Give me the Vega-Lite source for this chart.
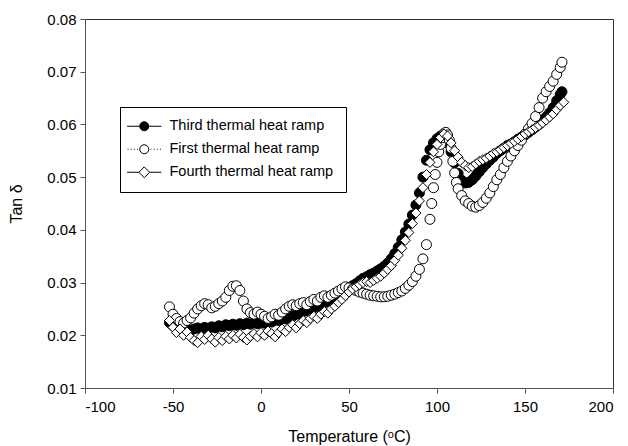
{
  "$schema": "https://vega.github.io/schema/vega-lite/v6.json",
  "autosize": {"type": "none"},
  "width": 528,
  "height": 369,
  "padding": {"left": 85, "top": 19, "right": 15, "bottom": 58},
  "config": {
    "font": "Liberation Sans",
    "view": {"stroke": "#333333", "strokeWidth": 1},
    "axis": {
      "grid": false,
      "domainColor": "#555555",
      "tickColor": "#555555",
      "labelColor": "black",
      "titleColor": "black",
      "labelFontSize": 15,
      "titleFontSize": 16,
      "titleFontWeight": "normal",
      "tickSize": 5,
      "labelPadding": 4
    },
    "legend": {
      "orient": "none", "legendX": 35, "legendY": 88,
      "strokeColor": "black", "fillColor": "white", "padding": 12,
      "symbolSize": 81, "symbolOffset": 5, "labelOffset": 18, "labelFontSize": 14.5, "labelColor": "black",
      "rowPadding": 8, "symbolStrokeWidth": 1, "labelLimit": 300
    }
  },
  "datasets": {
    "main": [
      {"s":"Third","t":-52,"v":0.0224},{"s":"Third","t":-50,"v":0.0218},{"s":"Third","t":-48,"v":0.0212},{"s":"Third","t":-46,"v":0.0215},{"s":"Third","t":-44,"v":0.0210},{"s":"Third","t":-42,"v":0.0213},{"s":"Third","t":-40,"v":0.0209},{"s":"Third","t":-38,"v":0.0212},{"s":"Third","t":-36,"v":0.0214},{"s":"Third","t":-34,"v":0.0211},{"s":"Third","t":-32,"v":0.0215},{"s":"Third","t":-30,"v":0.0213},{"s":"Third","t":-28,"v":0.0216},{"s":"Third","t":-26,"v":0.0214},{"s":"Third","t":-24,"v":0.0218},{"s":"Third","t":-22,"v":0.0216},{"s":"Third","t":-20,"v":0.0220},{"s":"Third","t":-18,"v":0.0218},{"s":"Third","t":-16,"v":0.0221},{"s":"Third","t":-14,"v":0.0219},{"s":"Third","t":-12,"v":0.0222},{"s":"Third","t":-10,"v":0.0220},{"s":"Third","t":-8,"v":0.0223},{"s":"Third","t":-6,"v":0.0221},{"s":"Third","t":-4,"v":0.0224},{"s":"Third","t":-2,"v":0.0222},{"s":"Third","t":0,"v":0.0225},{"s":"Third","t":2,"v":0.0223},{"s":"Third","t":4,"v":0.0227},{"s":"Third","t":6,"v":0.0225},{"s":"Third","t":8,"v":0.0229},{"s":"Third","t":10,"v":0.0228},{"s":"Third","t":12,"v":0.0232},{"s":"Third","t":14,"v":0.0231},{"s":"Third","t":16,"v":0.0235},{"s":"Third","t":18,"v":0.0236},{"s":"Third","t":20,"v":0.0240},{"s":"Third","t":22,"v":0.0241},{"s":"Third","t":24,"v":0.0245},{"s":"Third","t":26,"v":0.0247},{"s":"Third","t":28,"v":0.0250},{"s":"Third","t":30,"v":0.0252},{"s":"Third","t":32,"v":0.0256},{"s":"Third","t":34,"v":0.0258},{"s":"Third","t":36,"v":0.0262},{"s":"Third","t":38,"v":0.0265},{"s":"Third","t":40,"v":0.0268},{"s":"Third","t":42,"v":0.0272},{"s":"Third","t":44,"v":0.0276},{"s":"Third","t":46,"v":0.0280},{"s":"Third","t":48,"v":0.0285},{"s":"Third","t":50,"v":0.0290},{"s":"Third","t":52,"v":0.0294},{"s":"Third","t":54,"v":0.0298},{"s":"Third","t":56,"v":0.0303},{"s":"Third","t":58,"v":0.0308},{"s":"Third","t":60,"v":0.0311},{"s":"Third","t":62,"v":0.0315},{"s":"Third","t":64,"v":0.0318},{"s":"Third","t":66,"v":0.0322},{"s":"Third","t":68,"v":0.0326},{"s":"Third","t":70,"v":0.0331},{"s":"Third","t":72,"v":0.0337},{"s":"Third","t":74,"v":0.0345},{"s":"Third","t":76,"v":0.0355},{"s":"Third","t":78,"v":0.0367},{"s":"Third","t":80,"v":0.0381},{"s":"Third","t":82,"v":0.0396},{"s":"Third","t":84,"v":0.0411},{"s":"Third","t":86,"v":0.0428},{"s":"Third","t":88,"v":0.0447},{"s":"Third","t":90,"v":0.0470},{"s":"Third","t":92,"v":0.0500},{"s":"Third","t":94,"v":0.0532},{"s":"Third","t":96,"v":0.0552},{"s":"Third","t":98,"v":0.0565},{"s":"Third","t":100,"v":0.0573},{"s":"Third","t":102,"v":0.0578},{"s":"Third","t":104,"v":0.0575},{"s":"Third","t":106,"v":0.0565},{"s":"Third","t":108,"v":0.0548},{"s":"Third","t":110,"v":0.0527},{"s":"Third","t":112,"v":0.0507},{"s":"Third","t":114,"v":0.0494},{"s":"Third","t":116,"v":0.0489},{"s":"Third","t":118,"v":0.0490},{"s":"Third","t":120,"v":0.0495},{"s":"Third","t":122,"v":0.0502},{"s":"Third","t":124,"v":0.0510},{"s":"Third","t":126,"v":0.0518},{"s":"Third","t":128,"v":0.0525},{"s":"Third","t":130,"v":0.0532},{"s":"Third","t":132,"v":0.0538},{"s":"Third","t":134,"v":0.0545},{"s":"Third","t":136,"v":0.0550},{"s":"Third","t":138,"v":0.0555},{"s":"Third","t":140,"v":0.0560},{"s":"Third","t":142,"v":0.0563},{"s":"Third","t":144,"v":0.0567},{"s":"Third","t":146,"v":0.0572},{"s":"Third","t":148,"v":0.0576},{"s":"Third","t":150,"v":0.0580},{"s":"Third","t":152,"v":0.0585},{"s":"Third","t":154,"v":0.0590},{"s":"Third","t":156,"v":0.0595},{"s":"Third","t":158,"v":0.0600},{"s":"Third","t":160,"v":0.0607},{"s":"Third","t":162,"v":0.0614},{"s":"Third","t":164,"v":0.0622},{"s":"Third","t":166,"v":0.0632},{"s":"Third","t":168,"v":0.0645},{"s":"Third","t":170,"v":0.0657},{"s":"Third","t":171,"v":0.0662},
      {"s":"First","t":-52,"v":0.0254},{"s":"First","t":-50,"v":0.0240},{"s":"First","t":-48,"v":0.0232},{"s":"First","t":-46,"v":0.0226},{"s":"First","t":-44,"v":0.0223},{"s":"First","t":-42,"v":0.0228},{"s":"First","t":-40,"v":0.0233},{"s":"First","t":-38,"v":0.0242},{"s":"First","t":-36,"v":0.0250},{"s":"First","t":-34,"v":0.0256},{"s":"First","t":-32,"v":0.0260},{"s":"First","t":-30,"v":0.0258},{"s":"First","t":-28,"v":0.0252},{"s":"First","t":-26,"v":0.0255},{"s":"First","t":-24,"v":0.0260},{"s":"First","t":-22,"v":0.0265},{"s":"First","t":-20,"v":0.0272},{"s":"First","t":-18,"v":0.0285},{"s":"First","t":-16,"v":0.0293},{"s":"First","t":-14,"v":0.0294},{"s":"First","t":-12,"v":0.0285},{"s":"First","t":-10,"v":0.0265},{"s":"First","t":-8,"v":0.0250},{"s":"First","t":-6,"v":0.0243},{"s":"First","t":-4,"v":0.0240},{"s":"First","t":-2,"v":0.0244},{"s":"First","t":0,"v":0.0240},{"s":"First","t":2,"v":0.0236},{"s":"First","t":4,"v":0.0232},{"s":"First","t":6,"v":0.0235},{"s":"First","t":8,"v":0.0240},{"s":"First","t":10,"v":0.0238},{"s":"First","t":12,"v":0.0244},{"s":"First","t":14,"v":0.0250},{"s":"First","t":16,"v":0.0255},{"s":"First","t":18,"v":0.0258},{"s":"First","t":20,"v":0.0256},{"s":"First","t":22,"v":0.0260},{"s":"First","t":24,"v":0.0262},{"s":"First","t":26,"v":0.0258},{"s":"First","t":28,"v":0.0264},{"s":"First","t":30,"v":0.0268},{"s":"First","t":32,"v":0.0265},{"s":"First","t":34,"v":0.0272},{"s":"First","t":36,"v":0.0275},{"s":"First","t":38,"v":0.0272},{"s":"First","t":40,"v":0.0276},{"s":"First","t":42,"v":0.0280},{"s":"First","t":44,"v":0.0284},{"s":"First","t":46,"v":0.0288},{"s":"First","t":48,"v":0.0292},{"s":"First","t":50,"v":0.0290},{"s":"First","t":52,"v":0.0288},{"s":"First","t":54,"v":0.0285},{"s":"First","t":56,"v":0.0282},{"s":"First","t":58,"v":0.0280},{"s":"First","t":60,"v":0.0278},{"s":"First","t":62,"v":0.0276},{"s":"First","t":64,"v":0.0275},{"s":"First","t":66,"v":0.0274},{"s":"First","t":68,"v":0.0273},{"s":"First","t":70,"v":0.0273},{"s":"First","t":72,"v":0.0274},{"s":"First","t":74,"v":0.0276},{"s":"First","t":76,"v":0.0278},{"s":"First","t":78,"v":0.0281},{"s":"First","t":80,"v":0.0284},{"s":"First","t":82,"v":0.0289},{"s":"First","t":84,"v":0.0295},{"s":"First","t":86,"v":0.0302},{"s":"First","t":88,"v":0.0312},{"s":"First","t":90,"v":0.0325},{"s":"First","t":92,"v":0.0345},{"s":"First","t":94,"v":0.0372},{"s":"First","t":96,"v":0.0420},{"s":"First","t":97,"v":0.0450},{"s":"First","t":98,"v":0.0480},{"s":"First","t":99,"v":0.0505},{"s":"First","t":100,"v":0.0528},{"s":"First","t":101,"v":0.0548},{"s":"First","t":102,"v":0.0562},{"s":"First","t":103,"v":0.0575},{"s":"First","t":104,"v":0.0583},{"s":"First","t":105,"v":0.0585},{"s":"First","t":106,"v":0.0580},{"s":"First","t":107,"v":0.0570},{"s":"First","t":108,"v":0.0555},{"s":"First","t":109,"v":0.0530},{"s":"First","t":110,"v":0.0508},{"s":"First","t":111,"v":0.0490},{"s":"First","t":112,"v":0.0478},{"s":"First","t":114,"v":0.0465},{"s":"First","t":116,"v":0.0455},{"s":"First","t":118,"v":0.0450},{"s":"First","t":120,"v":0.0445},{"s":"First","t":122,"v":0.0443},{"s":"First","t":124,"v":0.0446},{"s":"First","t":126,"v":0.0452},{"s":"First","t":128,"v":0.0460},{"s":"First","t":130,"v":0.0470},{"s":"First","t":132,"v":0.0482},{"s":"First","t":134,"v":0.0495},{"s":"First","t":136,"v":0.0505},{"s":"First","t":138,"v":0.0518},{"s":"First","t":140,"v":0.0530},{"s":"First","t":142,"v":0.0540},{"s":"First","t":144,"v":0.0550},{"s":"First","t":146,"v":0.0560},{"s":"First","t":148,"v":0.0570},{"s":"First","t":150,"v":0.0582},{"s":"First","t":152,"v":0.0592},{"s":"First","t":154,"v":0.0602},{"s":"First","t":156,"v":0.0615},{"s":"First","t":158,"v":0.0632},{"s":"First","t":160,"v":0.0650},{"s":"First","t":162,"v":0.0662},{"s":"First","t":164,"v":0.0672},{"s":"First","t":166,"v":0.0682},{"s":"First","t":168,"v":0.0695},{"s":"First","t":170,"v":0.0708},{"s":"First","t":171,"v":0.0718},
      {"s":"Fourth","t":-52,"v":0.0228},{"s":"Fourth","t":-50,"v":0.0215},{"s":"Fourth","t":-48,"v":0.0205},{"s":"Fourth","t":-46,"v":0.0212},{"s":"Fourth","t":-44,"v":0.0200},{"s":"Fourth","t":-42,"v":0.0206},{"s":"Fourth","t":-40,"v":0.0196},{"s":"Fourth","t":-38,"v":0.0190},{"s":"Fourth","t":-36,"v":0.0186},{"s":"Fourth","t":-34,"v":0.0198},{"s":"Fourth","t":-32,"v":0.0192},{"s":"Fourth","t":-30,"v":0.0200},{"s":"Fourth","t":-28,"v":0.0193},{"s":"Fourth","t":-26,"v":0.0187},{"s":"Fourth","t":-24,"v":0.0196},{"s":"Fourth","t":-22,"v":0.0190},{"s":"Fourth","t":-20,"v":0.0198},{"s":"Fourth","t":-18,"v":0.0193},{"s":"Fourth","t":-16,"v":0.0200},{"s":"Fourth","t":-14,"v":0.0195},{"s":"Fourth","t":-12,"v":0.0202},{"s":"Fourth","t":-10,"v":0.0196},{"s":"Fourth","t":-8,"v":0.0191},{"s":"Fourth","t":-6,"v":0.0198},{"s":"Fourth","t":-4,"v":0.0203},{"s":"Fourth","t":-2,"v":0.0197},{"s":"Fourth","t":0,"v":0.0205},{"s":"Fourth","t":2,"v":0.0200},{"s":"Fourth","t":4,"v":0.0208},{"s":"Fourth","t":6,"v":0.0203},{"s":"Fourth","t":8,"v":0.0197},{"s":"Fourth","t":10,"v":0.0205},{"s":"Fourth","t":12,"v":0.0212},{"s":"Fourth","t":14,"v":0.0207},{"s":"Fourth","t":16,"v":0.0215},{"s":"Fourth","t":18,"v":0.0220},{"s":"Fourth","t":20,"v":0.0214},{"s":"Fourth","t":22,"v":0.0222},{"s":"Fourth","t":24,"v":0.0228},{"s":"Fourth","t":26,"v":0.0224},{"s":"Fourth","t":28,"v":0.0232},{"s":"Fourth","t":30,"v":0.0236},{"s":"Fourth","t":32,"v":0.0232},{"s":"Fourth","t":34,"v":0.0240},{"s":"Fourth","t":36,"v":0.0245},{"s":"Fourth","t":38,"v":0.0242},{"s":"Fourth","t":40,"v":0.0250},{"s":"Fourth","t":42,"v":0.0255},{"s":"Fourth","t":44,"v":0.0262},{"s":"Fourth","t":46,"v":0.0268},{"s":"Fourth","t":48,"v":0.0275},{"s":"Fourth","t":50,"v":0.0282},{"s":"Fourth","t":52,"v":0.0288},{"s":"Fourth","t":54,"v":0.0292},{"s":"Fourth","t":56,"v":0.0296},{"s":"Fourth","t":58,"v":0.0300},{"s":"Fourth","t":60,"v":0.0302},{"s":"Fourth","t":62,"v":0.0300},{"s":"Fourth","t":64,"v":0.0304},{"s":"Fourth","t":66,"v":0.0308},{"s":"Fourth","t":68,"v":0.0312},{"s":"Fourth","t":70,"v":0.0318},{"s":"Fourth","t":72,"v":0.0325},{"s":"Fourth","t":74,"v":0.0332},{"s":"Fourth","t":76,"v":0.0342},{"s":"Fourth","t":78,"v":0.0352},{"s":"Fourth","t":80,"v":0.0365},{"s":"Fourth","t":82,"v":0.0380},{"s":"Fourth","t":84,"v":0.0395},{"s":"Fourth","t":86,"v":0.0412},{"s":"Fourth","t":88,"v":0.0432},{"s":"Fourth","t":90,"v":0.0455},{"s":"Fourth","t":92,"v":0.0480},{"s":"Fourth","t":94,"v":0.0505},{"s":"Fourth","t":96,"v":0.0528},{"s":"Fourth","t":98,"v":0.0548},{"s":"Fourth","t":100,"v":0.0562},{"s":"Fourth","t":102,"v":0.0575},{"s":"Fourth","t":104,"v":0.0582},{"s":"Fourth","t":106,"v":0.0578},{"s":"Fourth","t":108,"v":0.0565},{"s":"Fourth","t":110,"v":0.0550},{"s":"Fourth","t":112,"v":0.0538},{"s":"Fourth","t":114,"v":0.0528},{"s":"Fourth","t":116,"v":0.0522},{"s":"Fourth","t":118,"v":0.0518},{"s":"Fourth","t":120,"v":0.0520},{"s":"Fourth","t":122,"v":0.0525},{"s":"Fourth","t":124,"v":0.0530},{"s":"Fourth","t":126,"v":0.0533},{"s":"Fourth","t":128,"v":0.0536},{"s":"Fourth","t":130,"v":0.0540},{"s":"Fourth","t":132,"v":0.0545},{"s":"Fourth","t":134,"v":0.0548},{"s":"Fourth","t":136,"v":0.0552},{"s":"Fourth","t":138,"v":0.0556},{"s":"Fourth","t":140,"v":0.0560},{"s":"Fourth","t":142,"v":0.0564},{"s":"Fourth","t":144,"v":0.0568},{"s":"Fourth","t":146,"v":0.0572},{"s":"Fourth","t":148,"v":0.0577},{"s":"Fourth","t":150,"v":0.0582},{"s":"Fourth","t":152,"v":0.0586},{"s":"Fourth","t":154,"v":0.0590},{"s":"Fourth","t":156,"v":0.0594},{"s":"Fourth","t":158,"v":0.0598},{"s":"Fourth","t":160,"v":0.0603},{"s":"Fourth","t":162,"v":0.0608},{"s":"Fourth","t":164,"v":0.0614},{"s":"Fourth","t":166,"v":0.0620},{"s":"Fourth","t":168,"v":0.0628},{"s":"Fourth","t":170,"v":0.0636},{"s":"Fourth","t":172,"v":0.0642}
    ],
    "keys": [
      {"s":"Third","t":-52,"v":0.0224},{"s":"First","t":-52,"v":0.0254},{"s":"Fourth","t":-52,"v":0.0228}
    ]
  },
  "encoding": {
    "x": {
      "field": "t", "type": "quantitative",
      "scale": {"domain": [-100, 200], "nice": false},
      "axis": {"values": [-100, -50, 0, 50, 100, 150, 200], "labelExpr": "replace(datum.label, '\u2212', '-')", "title": "Temperature (ᵒC)", "titlePadding": 14, "labelPadding": 6}
    },
    "y": {
      "field": "v", "type": "quantitative",
      "scale": {"domain": [0.01, 0.08], "nice": false, "zero": false},
      "axis": {"values": [0.01, 0.02, 0.03, 0.04, 0.05, 0.06, 0.07, 0.08], "format": ".2f", "title": "Tan δ", "titlePadding": 22}
    }
  },
  "layer": [
    {
      "data": {"name": "main"},
      "mark": {"type": "point", "filled": true, "stroke": "black", "strokeWidth": 1, "opacity": 1, "size": 100},
      "encoding": {
        "shape": {"condition": {"test": "datum.s === 'Fourth'", "value": "diamond"}, "value": "circle"},
        "fill": {"condition": {"test": "datum.s === 'Third'", "value": "black"}, "value": "white"}
      }
    },
    {
      "data": {"name": "keys"},
      "mark": {"type": "point", "filled": true, "strokeWidth": 1, "opacity": 1, "size": 0},
      "encoding": {
        "shape": {
          "field": "s", "type": "nominal",
          "scale": {"domain": ["Third", "First", "Fourth"], "range": [
            "M-3.8,0L-1,0M1,0L3.8,0M1,0A1,1,0,1,1,-1,0A1,1,0,1,1,1,0Z",
            "M-3.7,0L-3.5,0M-3.0,0L-2.8,0M-2.3,0L-2.1,0M-1.6,0L-1.4,0M1.4,0L1.6,0M2.1,0L2.3,0M2.8,0L3.0,0M3.5,0L3.7,0M1,0A1,1,0,1,1,-1,0A1,1,0,1,1,1,0Z",
            "M-3.8,0L-1.2,0M1.2,0L3.8,0M0,-1.2L1.2,0L0,1.2L-1.2,0Z"
          ]},
          "legend": {"title": null, "labelExpr": "datum.label + ' thermal heat ramp'"}
        },
        "fill": {
          "field": "s", "type": "nominal",
          "scale": {"domain": ["Third", "First", "Fourth"], "range": ["black", "white", "white"]},
          "legend": {"title": null, "labelExpr": "datum.label + ' thermal heat ramp'"}
        },
        "stroke": {
          "field": "s", "type": "nominal",
          "scale": {"domain": ["Third", "First", "Fourth"], "range": ["black", "black", "black"]},
          "legend": {"title": null, "labelExpr": "datum.label + ' thermal heat ramp'"}
        }
      }
    }
  ]
}
